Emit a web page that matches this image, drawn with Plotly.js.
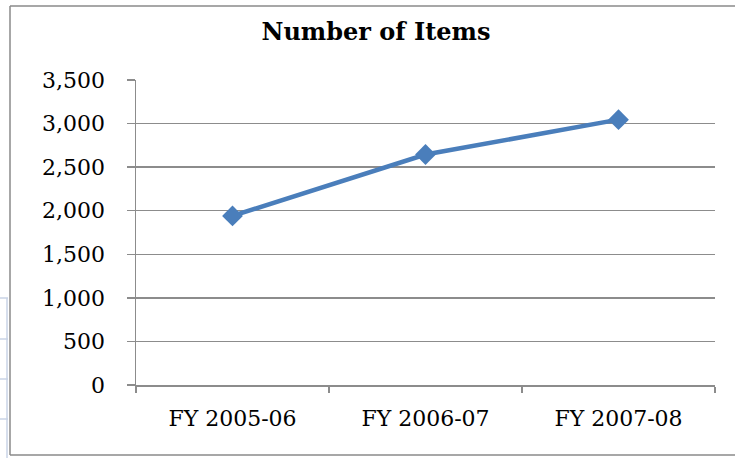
<!DOCTYPE html>
<html>
<head>
<meta charset="utf-8">
<script src="https://cdn.plot.ly/plotly-3.0.1.min.js"></script>
<style>
  html, body { margin: 0; padding: 0; background: #fff; }
  #chart { width: 735px; height: 458px; }
</style>
</head>
<body>
<div id="chart"></div>
<script>
const categories = ["FY 2005-06", "FY 2006-07", "FY 2007-08"];
const itemCounts = [1940, 2645, 3045];
const yTickValues = [0, 500, 1000, 1500, 2000, 2500, 3000, 3500];
const chartTitle = "Number of Items";

const serif = "DejaVu Serif, Liberation Serif, serif";
const gridColor = "#8c8c8c";

const trace = {
  type: "scatter",
  mode: "lines+markers",
  x: categories,
  y: itemCounts,
  line: { color: "#4a7ebb", width: 4.5 },
  marker: { symbol: "diamond", size: 16, color: "#4a7ebb" },
  hoverinfo: "x+y"
};

const layout = {
  width: 735,
  height: 458,
  paper_bgcolor: "#ffffff",
  plot_bgcolor: "#ffffff",
  showlegend: false,
  margin: { l: 136, r: 20, t: 80, b: 73, pad: 0 },
  title: {
    text: "<b>" + chartTitle + "</b>",
    font: { family: serif, size: 24, color: "#000000" },
    x: 376 / 735,
    xanchor: "center",
    xref: "container",
    yref: "container",
    y: 1 - 32 / 458,
    yanchor: "middle"
  },
  xaxis: {
    type: "category",
    tickson: "boundaries",
    ticks: "outside",
    ticklen: 6,
    tickwidth: 1.5,
    tickcolor: gridColor,
    showline: true,
    linecolor: gridColor,
    linewidth: 1.5,
    showgrid: false,
    zeroline: false,
    tickfont: { family: serif, size: 22, color: "#000000" },
    ticklabelstandoff: 13,
    range: [-0.5, 2.5],
    fixedrange: true
  },
  yaxis: {
    range: [0, 3500],
    tickvals: yTickValues,
    tickformat: ",",
    ticks: "outside",
    ticklen: 8,
    tickwidth: 1.5,
    tickcolor: gridColor,
    showline: true,
    linecolor: gridColor,
    linewidth: 1.5,
    showgrid: true,
    gridcolor: gridColor,
    gridwidth: 1.5,
    zeroline: false,
    tickfont: { family: serif, size: 22, color: "#000000" },
    ticklabelstandoff: 17,
    fixedrange: true
  },
  shapes: [
    // outer chart border (left, top, bottom)
    { type: "line", xref: "paper", yref: "paper", x0: -126 / 579, x1: -126 / 579, y0: (458 - 73 - 455) / 305, y1: (458 - 73 - 6) / 305, line: { color: "#8a8a8a", width: 1.5 } },
    { type: "line", xref: "paper", yref: "paper", x0: -126 / 579, x1: (735 - 136) / 579, y0: (458 - 73 - 6) / 305, y1: (458 - 73 - 6) / 305, line: { color: "#8a8a8a", width: 1.5 } },
    { type: "line", xref: "paper", yref: "paper", x0: -126 / 579, x1: (735 - 136) / 579, y0: (458 - 73 - 455) / 305, y1: (458 - 73 - 455) / 305, line: { color: "#8a8a8a", width: 1.5 } },
    // faint spreadsheet cell lines at far left
    { type: "line", xref: "paper", yref: "paper", x0: -136 / 579, x1: -128 / 579, y0: (385 - 298) / 305, y1: (385 - 298) / 305, line: { color: "#c9d3e6", width: 1.5 } },
    { type: "line", xref: "paper", yref: "paper", x0: -136 / 579, x1: -128 / 579, y0: (385 - 339) / 305, y1: (385 - 339) / 305, line: { color: "#c9d3e6", width: 1.5 } },
    { type: "line", xref: "paper", yref: "paper", x0: -136 / 579, x1: -128 / 579, y0: (385 - 379) / 305, y1: (385 - 379) / 305, line: { color: "#c9d3e6", width: 1.5 } },
    { type: "line", xref: "paper", yref: "paper", x0: -136 / 579, x1: -128 / 579, y0: (385 - 419) / 305, y1: (385 - 419) / 305, line: { color: "#c9d3e6", width: 1.5 } },
    { type: "line", xref: "paper", yref: "paper", x0: -129 / 579, x1: -129 / 579, y0: (385 - 298) / 305, y1: (385 - 458) / 305, line: { color: "#c9d3e6", width: 1.5 } }
  ]
};

Plotly.newPlot("chart", [trace], layout, { displayModeBar: false, staticPlot: true });
</script>
</body>
</html>
